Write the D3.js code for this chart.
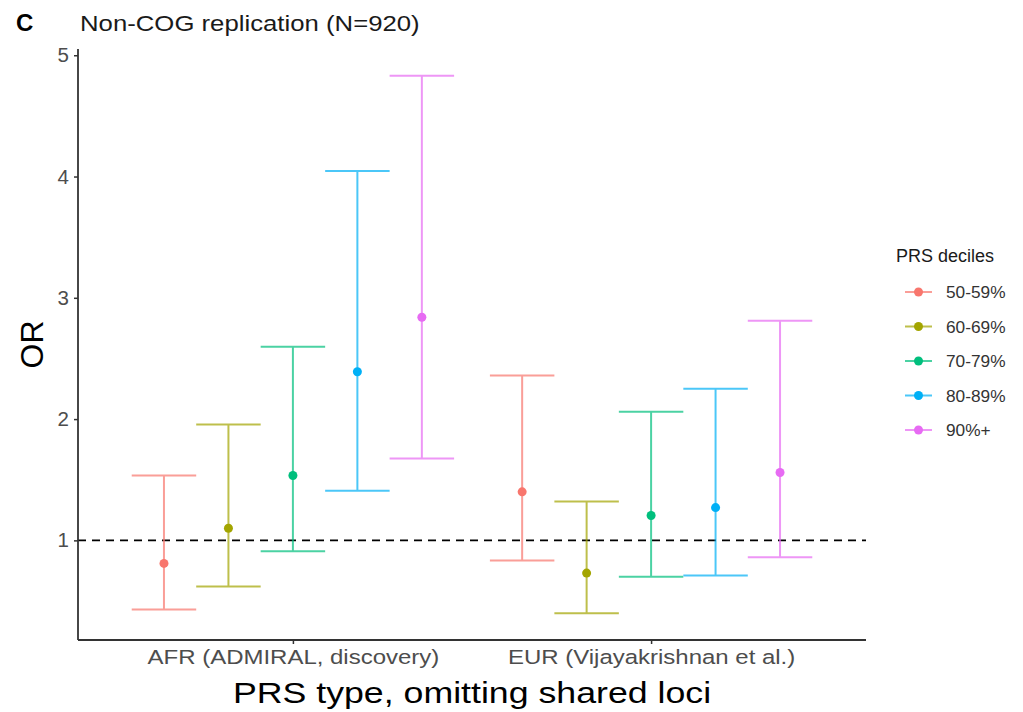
<!DOCTYPE html>
<html>
<head>
<meta charset="utf-8">
<script src="https://cdn.jsdelivr.net/npm/d3@7"></script>
<style>
  body { margin: 0; background: #fff; }
  svg { font-family: "Liberation Sans", Arial, sans-serif; }
</style>
</head>
<body>
<svg id="chart" width="1023" height="712"></svg>
<script>
// data
const groups = ["AFR (ADMIRAL, discovery)", "EUR (Vijayakrishnan et al.)"];
const deciles = ["50-59%", "60-69%", "70-79%", "80-89%", "90%+"];
const colors = ["#F8766D", "#A3A500", "#00BF7D", "#00B0F6", "#E76BF3"];
// per group, one value per decile
const orAFR = [0.81, 1.10, 1.535, 2.39, 2.84];
const lowAFR = [0.43, 0.62, 0.91, 1.41, 1.675];
const highAFR = [1.535, 1.955, 2.597, 4.045, 4.83];
const orEUR = [1.40, 0.73, 1.205, 1.27, 1.56];
const lowEUR = [0.835, 0.40, 0.70, 0.71, 0.86];
const highEUR = [2.36, 1.32, 2.06, 2.25, 2.81];
const yTicks = [1, 2, 3, 4, 5];

const rows = [];
[[orAFR, lowAFR, highAFR], [orEUR, lowEUR, highEUR]].forEach(function (s, gi) {
  deciles.forEach(function (d, di) {
    rows.push({ group: groups[gi], decile: d, or: s[0][di], lo: s[1][di], hi: s[2][di] });
  });
});

// layout
const pLeft = 78, pRight = 866, pTop = 49, pBottom = 640;
const svg = d3.select("#chart");

// text with a slight horizontal stretch (reference fonts run wide)
function label(g, x, y, txt, size, sx, anchor) {
  return g.append("text")
    .attr("transform", "translate(" + x + "," + y + ") scale(" + sx + ",1)")
    .attr("text-anchor", anchor || "start")
    .attr("font-size", size)
    .text(txt);
}

// scales
const x = d3.scalePoint().domain(groups).range([pLeft, pRight]).padding(0.6);
const step = x.step();
const dodge = d3.scaleBand().domain(deciles).range([-0.45 * step, 0.45 * step]);
const color = d3.scaleOrdinal().domain(deciles).range(colors);

const yMin = d3.min(rows, function (d) { return d.lo; });
const yMax = d3.max(rows, function (d) { return d.hi; });
const pad = (yMax - yMin) * 0.05;
const y = d3.scaleLinear().domain([yMin - pad, yMax + pad]).range([pBottom, pTop]);

function cx(d) { return x(d.group) + dodge(d.decile) + dodge.bandwidth() / 2; }

// reference line
svg.append("line")
  .attr("x1", pLeft).attr("x2", pRight)
  .attr("y1", y(1)).attr("y2", y(1))
  .attr("stroke", "#000").attr("stroke-width", 1.8)
  .attr("stroke-dasharray", "8,6");

// error bars
const eb = svg.append("g").attr("stroke-width", 2).attr("opacity", 0.7);
rows.forEach(function (d) {
  const c = color(d.decile), xm = cx(d), hw = dodge.bandwidth() / 2;
  eb.append("line").attr("x1", xm).attr("x2", xm).attr("y1", y(d.lo)).attr("y2", y(d.hi)).attr("stroke", c);
  eb.append("line").attr("x1", xm - hw).attr("x2", xm + hw).attr("y1", y(d.lo)).attr("y2", y(d.lo)).attr("stroke", c);
  eb.append("line").attr("x1", xm - hw).attr("x2", xm + hw).attr("y1", y(d.hi)).attr("y2", y(d.hi)).attr("stroke", c);
});

// points
svg.append("g").selectAll("circle")
  .data(rows).enter().append("circle")
  .attr("cx", cx)
  .attr("cy", function (d) { return y(d.or); })
  .attr("r", 4.5)
  .attr("fill", function (d) { return color(d.decile); });

// axes
const yAxis = svg.append("g")
  .attr("transform", "translate(" + pLeft + ",0)")
  .call(d3.axisLeft(y).tickValues(yTicks).tickFormat(d3.format("d")).tickSize(4).tickPadding(5));
yAxis.select(".domain").attr("d", "M0," + pTop + "V" + pBottom);

const xAxis = svg.append("g")
  .attr("transform", "translate(0," + pBottom + ")")
  .call(d3.axisBottom(x).tickSize(4).tickPadding(5));
xAxis.select(".domain").attr("d", "M" + pLeft + ",0H" + pRight);

svg.selectAll(".domain").attr("stroke", "#333").attr("stroke-width", 1.8);
svg.selectAll(".tick line").attr("stroke", "#333").attr("stroke-width", 1.5);
yAxis.selectAll("text").attr("font-size", 20.5).attr("fill", "#4d4d4d").attr("font-family", "Liberation Sans, Arial, sans-serif");
xAxis.selectAll("text").attr("font-size", 20.5).attr("fill", "#4d4d4d").attr("font-family", "Liberation Sans, Arial, sans-serif")
  .attr("transform", "scale(1.17,1)");

// titles
svg.append("text").attr("x", 16).attr("y", 31).attr("font-size", 24).attr("font-weight", "bold").text("C");
label(svg, 80, 31, "Non-COG replication (N=920)", 22, 1.17).attr("fill", "#1a1a1a");
svg.append("text")
  .attr("transform", "translate(43," + ((pTop + pBottom) / 2) + ") rotate(-90)")
  .attr("text-anchor", "middle").attr("font-size", 32).text("OR");
label(svg, 472, 703, "PRS type, omitting shared loci", 30, 1.19, "middle");

// legend
const lg = svg.append("g").attr("transform", "translate(896,0)");
label(lg, 0, 262, "PRS deciles", 18, 1.0).attr("fill", "#1a1a1a");
deciles.forEach(function (d, i) {
  const yy = 292 + i * 34.5;
  lg.append("line").attr("x1", 9).attr("x2", 36).attr("y1", yy).attr("y2", yy)
    .attr("stroke", color(d)).attr("stroke-width", 2).attr("opacity", 0.7);
  lg.append("circle").attr("cx", 22.5).attr("cy", yy).attr("r", 4.5).attr("fill", color(d));
  label(lg, 50, yy + 6, d, 16, 1.08).attr("fill", "#333");
});
</script>
</body>
</html>
